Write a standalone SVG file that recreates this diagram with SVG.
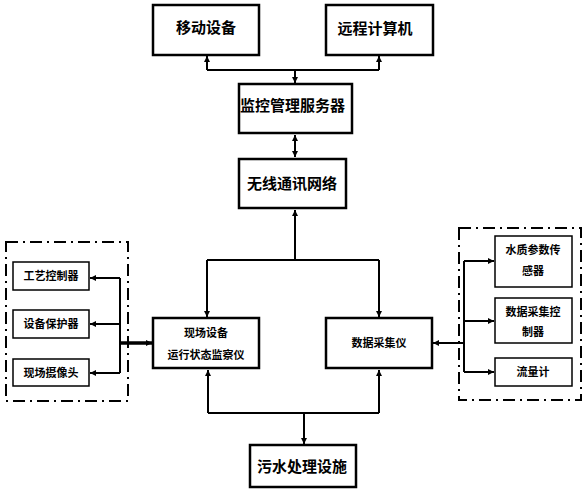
<svg xmlns="http://www.w3.org/2000/svg" width="584" height="491" viewBox="0 0 584 491">
<style>
.bx{fill:#fff;stroke:#000;stroke-width:2.5}
.sb{fill:#fff;stroke:#000;stroke-width:1.5}
.dash{fill:none;stroke:#000;stroke-width:2;stroke-dasharray:12 5 2 5}
.t{font-family:"Noto Sans CJK SC","Liberation Sans",sans-serif;font-weight:bold;fill:#000}
.big{font-size:15px}
.sm{font-size:11px}
.ln{fill:none;stroke:#000;stroke-width:2}
</style>
<defs>
<marker id="ah" viewBox="0 0 10 10" refX="10" refY="5" markerWidth="6" markerHeight="6" markerUnits="userSpaceOnUse" orient="auto-start-reverse">
<path d="M0,0 L10,5 L0,10 z" fill="#000"/>
</marker>
</defs>
<rect class="dash" x="6" y="242" width="122" height="159"/>
<rect class="dash" x="459" y="228" width="122" height="172"/>
<g id="n1"><rect class="bx" x="153" y="5" width="106" height="50"/><text class="t big" x="206" y="33" text-anchor="middle">移动设备</text></g>
<g id="n2"><rect class="bx" x="326" y="5" width="107" height="50"/><text class="t big" x="375" y="34" text-anchor="middle">远程计算机</text></g>
<g id="n3"><rect class="bx" x="239" y="84" width="113" height="49"/><text class="t big" x="240" y="111">监控管理服务器</text></g>
<g id="n4"><rect class="bx" x="239" y="159" width="107" height="49"/><text class="t big" x="292" y="189" text-anchor="middle">无线通讯网络</text></g>
<g id="n5"><rect class="bx" x="153" y="318" width="106" height="50"/><text class="t sm" x="206" y="337" text-anchor="middle">现场设备</text><text class="t sm" x="206" y="359" text-anchor="middle">运行状态监察仪</text></g>
<g id="n6"><rect class="bx" x="326" y="318" width="106" height="50"/><text class="t sm" x="379" y="347" text-anchor="middle">数据采集仪</text></g>
<g id="n7"><rect class="bx" x="250" y="445" width="106" height="42"/><text class="t big" x="302" y="472" text-anchor="middle">污水处理设施</text></g>
<g id="n8"><rect class="sb" x="13" y="262" width="76" height="28"/><text class="t sm" x="51" y="280" text-anchor="middle">工艺控制器</text></g>
<g id="n9"><rect class="sb" x="13" y="310" width="76" height="28"/><text class="t sm" x="51" y="328" text-anchor="middle">设备保护器</text></g>
<g id="n10"><rect class="sb" x="13" y="359" width="76" height="27"/><text class="t sm" x="51" y="377" text-anchor="middle">现场摄像头</text></g>
<g id="n11"><rect class="sb" x="495" y="236" width="77" height="51"/><text class="t sm" x="533" y="254" text-anchor="middle">水质参数传</text><text class="t sm" x="533" y="275" text-anchor="middle">感器</text></g>
<g id="n12"><rect class="sb" x="495" y="298" width="77" height="45"/><text class="t sm" x="533" y="316" text-anchor="middle">数据采集控</text><text class="t sm" x="533" y="336" text-anchor="middle">制器</text></g>
<g id="n13"><rect class="sb" x="495" y="358" width="77" height="28"/><text class="t sm" x="533" y="376" text-anchor="middle">流量计</text></g>
<g id="connectors">
<path class="ln" d="M207,70 V56" marker-end="url(#ah)"/>
<path class="ln" d="M379,70 V56" marker-end="url(#ah)"/>
<path class="ln" d="M207,70 H379"/>
<path class="ln" d="M295,70 V83" marker-end="url(#ah)"/>
<path class="ln" d="M295,135 V157" marker-start="url(#ah)" marker-end="url(#ah)"/>
<path class="ln" d="M295,260 V210" marker-end="url(#ah)"/>
<path class="ln" d="M207,260 H379"/>
<path class="ln" d="M207,260 V317" marker-end="url(#ah)"/>
<path class="ln" d="M379,260 V317" marker-end="url(#ah)"/>
<path class="ln" d="M208,413 V370" marker-end="url(#ah)"/>
<path class="ln" d="M379,413 V370" marker-end="url(#ah)"/>
<path class="ln" d="M208,413 H379"/>
<path class="ln" d="M304,413 V444" marker-end="url(#ah)"/>
<path class="ln" style="stroke-width:3.5" d="M120,343 H152" marker-end="url(#ah)"/>
<path class="ln" d="M120,278 V373"/>
<path class="ln" d="M120,278 H90" marker-end="url(#ah)"/>
<path class="ln" d="M120,324 H90" marker-end="url(#ah)"/>
<path class="ln" d="M120,373 H90" marker-end="url(#ah)"/>
<path class="ln" d="M464,343 H433" marker-end="url(#ah)"/>
<path class="ln" d="M464,261 V372"/>
<path class="ln" d="M464,261 H494" marker-end="url(#ah)"/>
<path class="ln" d="M464,321 H494" marker-end="url(#ah)"/>
<path class="ln" d="M464,372 H494" marker-end="url(#ah)"/>
</g>
</svg>
